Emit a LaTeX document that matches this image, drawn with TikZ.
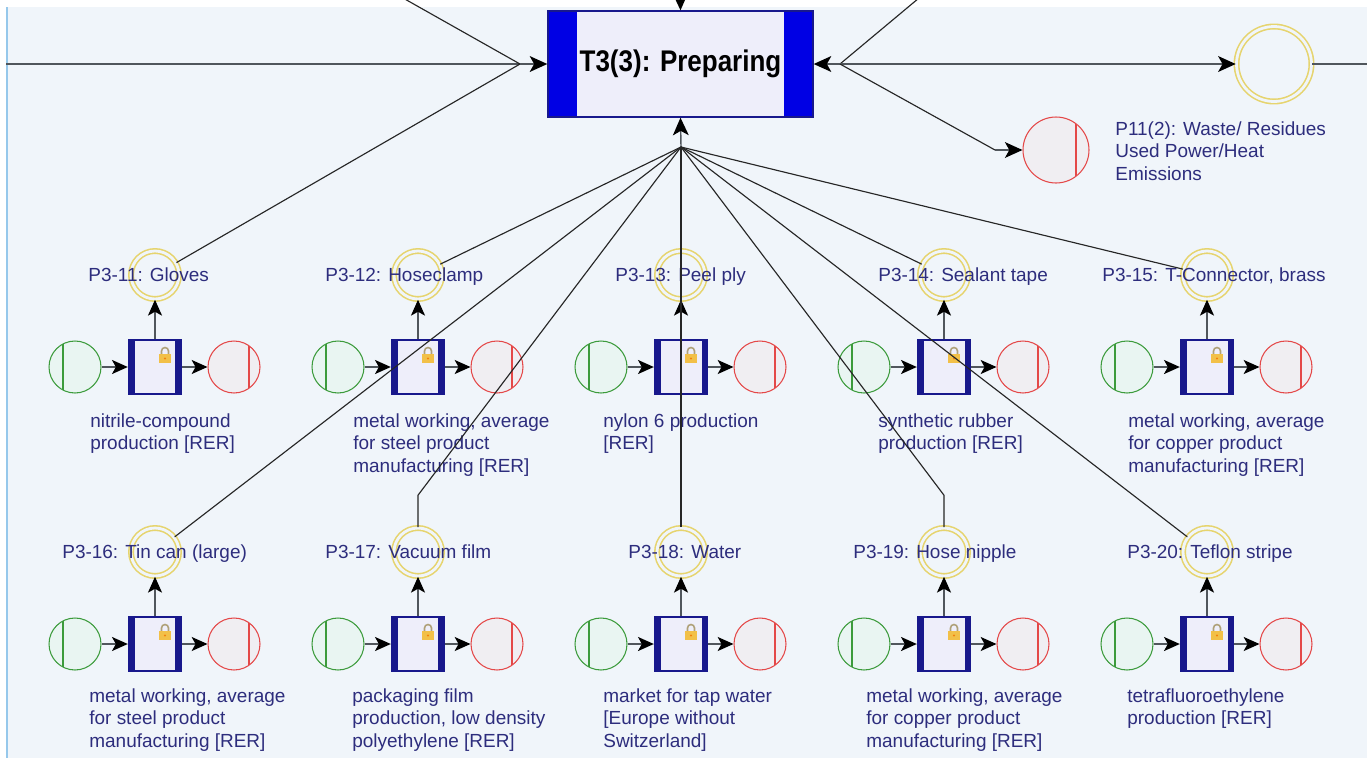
\documentclass[tikz,border=0pt]{standalone}
\usepackage{fontspec}
\setmainfont{Liberation Sans}
\newfontfamily\headfont{Liberation Sans}[FakeStretch=0.87]
\usetikzlibrary{arrows.meta}
\definecolor{bgcol}{RGB}{240,245,250}
\definecolor{edgeblue}{RGB}{150,200,235}
\definecolor{navy}{RGB}{24,24,140}
\definecolor{tblue}{RGB}{0,0,228}
\definecolor{boxfill}{RGB}{238,238,250}
\definecolor{txtcol}{RGB}{45,45,125}
\definecolor{ringyel}{RGB}{230,212,110}
\definecolor{ingreen}{RGB}{60,155,60}
\definecolor{outred}{RGB}{228,72,72}
\definecolor{lockgold}{RGB}{242,192,72}
\definecolor{lockgray}{RGB}{175,160,120}
\definecolor{linegray}{RGB}{80,86,92}
\newcommand{\lblfont}{\fontsize{10.8}{12.9}\selectfont}
\tikzset{
  flow/.style={draw=linegray, line width=0.9pt,
    -{Stealth[length=9pt,width=8pt,inset=2.2pt,black]}},
  bigflow/.style={draw=linegray, line width=1.1pt,
    -{Stealth[length=10pt,width=9pt,inset=2.5pt,black]}},
  mainline/.style={draw=linegray, line width=1.3pt},
  link/.style={draw=black!85, line width=0.65pt},
  product/.style={circle, draw=ringyel, line width=0.9pt, double=bgcol,
    double distance=1.6pt, minimum size=0.96cm, inner sep=0pt},
  inflow/.style={circle, draw=ingreen, fill=green!3!bgcol, line width=0.6pt,
    minimum size=1.04cm, inner sep=0pt,
    path picture={\draw[ingreen, line width=0.6pt]
      ([xshift=-0.24cm]path picture bounding box.north) --
      ([xshift=-0.24cm]path picture bounding box.south);}},
  outflow/.style={circle, draw=outred, fill=red!3!bgcol, line width=0.6pt,
    minimum size=1.04cm, inner sep=0pt,
    path picture={\draw[outred, line width=0.6pt]
      ([xshift=0.3cm]path picture bounding box.north) --
      ([xshift=0.3cm]path picture bounding box.south);}},
  proc/.style={rectangle, draw=navy, line width=0.8pt, fill=boxfill,
    minimum width=1.06cm, minimum height=1.08cm, inner sep=0pt,
    path picture={
      \fill[navy] (path picture bounding box.north west) rectangle
        ([xshift=0.12cm]path picture bounding box.south west);
      \fill[navy] ([xshift=-0.12cm]path picture bounding box.north east) rectangle
        (path picture bounding box.south east);}},
  trans/.style={rectangle, draw=navy, line width=0.8pt, fill=boxfill,
    minimum width=5.3cm, minimum height=2.12cm, inner sep=0pt,
    font=\headfont\bfseries\fontsize{17}{19}\selectfont,
    path picture={
      \fill[tblue] (path picture bounding box.north west) rectangle
        ([xshift=0.58cm]path picture bounding box.south west);
      \fill[tblue] ([xshift=-0.58cm]path picture bounding box.north east) rectangle
        (path picture bounding box.south east);}},
  plabel/.style={anchor=base west, inner sep=0pt, text=txtcol, font=\lblfont},
  pdesc/.style={anchor=north west, inner sep=0pt, align=left, text=txtcol, font=\lblfont},
  padlock/.pic={
    \draw[lockgray, line width=0.9pt] (-3.5,-1) -- (-3.5,-4)
      arc[start angle=180, end angle=360, radius=3.5] -- (3.5,-1);
    \fill[lockgold] (-6,-1) rectangle (6,8);
    \fill[orange!80!brown] (0,3.5) circle[radius=1.2];
  },
}

\begin{document}
\begin{tikzpicture}[x=0.02cm, y=-0.02cm]
  \useasboundingbox (0,0) rectangle (1367,758);
  \clip (0,0) rectangle (1367,758);
  \fill[white] (0,0) rectangle (1367,758);
  \fill[bgcol] (7,7) rectangle (1367,758);
  \draw[edgeblue, line width=0.8pt] (7,7) -- (7,758);

  % main transition and its neighbours
  \node[trans] (t3) at (680.5,64) {T3(3): Preparing};
  \node[product, minimum size=1.5cm] (pout) at (1274,64) {};
  \node[outflow, minimum size=1.32cm,
    path picture={\draw[outred, line width=0.6pt]
      ([xshift=0.4cm]path picture bounding box.north) --
      ([xshift=0.4cm]path picture bounding box.south);}] (waste) at (1056,150) {};
  \node[pdesc] (wastelbl) at (1115,121)
    {P11(2): Waste/ Residues\\Used Power/Heat\\Emissions};

  % ten supplier modules
  \foreach \n/\x/\y in {11/155/367, 12/418/367, 13/681/367, 14/944/367, 15/1207/367,
                        16/155/644, 17/418/644, 18/681/644, 19/944/644, 20/1207/644}{
    \node[proc] (s\n) at (\x,\y) {};
    \node[inflow] (i\n) at (\x-80,\y) {};
    \node[outflow] (o\n) at (\x+79,\y) {};
    \node[product] (p\n) at (\x,\y-92) {};
    \pic at (\x+10,\y-12) {padlock};
    \draw[flow] (i\n) -- (s\n);
    \draw[flow] (s\n) -- (o\n);
    \draw[flow] (s\n) -- (p\n);
  }

  % place names
  \node[plabel] (l11) at (88,281) {P3-11: Gloves};
  \node[plabel] (l12) at (325,281) {P3-12: Hoseclamp};
  \node[plabel] (l13) at (615,281) {P3-13: Peel ply};
  \node[plabel] (l14) at (878,281) {P3-14: Sealant tape};
  \node[plabel] (l15) at (1102,281) {P3-15: T-Connector, brass};
  \node[plabel] (l16) at (62,558) {P3-16: Tin can (large)};
  \node[plabel] (l17) at (325,558) {P3-17: Vacuum film};
  \node[plabel] (l18) at (628,558) {P3-18: Water};
  \node[plabel] (l19) at (853,558) {P3-19: Hose nipple};
  \node[plabel] (l20) at (1127,558) {P3-20: Teflon stripe};

  % process names
  \node[pdesc] (d11) at (90,413) {nitrile-compound\\production [RER]};
  \node[pdesc] (d12) at (353,413) {metal working, average\\for steel product\\manufacturing [RER]};
  \node[pdesc] (d13) at (603,413) {nylon 6 production\\{}[RER]};
  \node[pdesc] (d14) at (878,413) {synthetic rubber\\production [RER]};
  \node[pdesc] (d15) at (1128,413) {metal working, average\\for copper product\\manufacturing [RER]};
  \node[pdesc] (d16) at (89,688) {metal working, average\\for steel product\\manufacturing [RER]};
  \node[pdesc] (d17) at (352,688) {packaging film\\production, low density\\polyethylene [RER]};
  \node[pdesc] (d18) at (603,688) {market for tap water\\{}[Europe without\\Switzerland]};
  \node[pdesc] (d19) at (866,688) {metal working, average\\for copper product\\manufacturing [RER]};
  \node[pdesc] (d20) at (1127,688) {tetrafluoroethylene\\production [RER]};

  % junctions and loose ends
  \coordinate (ljn) at (520,64);
  \coordinate (rjn) at (840,64);
  \coordinate (hub) at (681,147);
  \coordinate (wbend) at (995,150);
  \coordinate (inW) at (6,64);
  \coordinate (inNW) at (403,-2);
  \coordinate (inN) at (680,-30);
  \coordinate (inNE) at (919,-2);
  \coordinate (outE) at (1370,64);

  % connections around T3
  \draw[mainline] (inW) -- (ljn);
  \draw[link] (inNW) -- (ljn);
  \draw[link] (p11) -- (ljn);
  \draw[bigflow] (ljn) -- (t3.west);
  \draw[bigflow] (inN) -- (t3.north);
  \draw[link] (inNE) -- (rjn);
  \draw[bigflow] (rjn) -- (t3.east);
  \draw[bigflow] (rjn) -- (pout);
  \draw[mainline] (pout) -- (outE);
  \draw[link] (rjn) -- (wbend);
  \draw[bigflow, line width=0.8pt] (wbend) -- (waste);

  % products gathered below T3
  \draw[bigflow, line width=0.8pt] (hub) -- (t3.south);
  \draw[link] (p12) -- (hub);
  \draw[link] (p13) -- (hub);
  \draw[link] (p14) -- (hub);
  \draw[link] (p15) -- (hub);
  \draw[link] (p16) -- (hub);
  \draw[link] (p17.north) -- ++(0,-32) -- (hub);
  \draw[link] (p18.north) -- (hub);
  \draw[link] (p19.north) -- ++(0,-32) -- (hub);
  \draw[link] (p20) -- (hub);
\end{tikzpicture}
\end{document}
